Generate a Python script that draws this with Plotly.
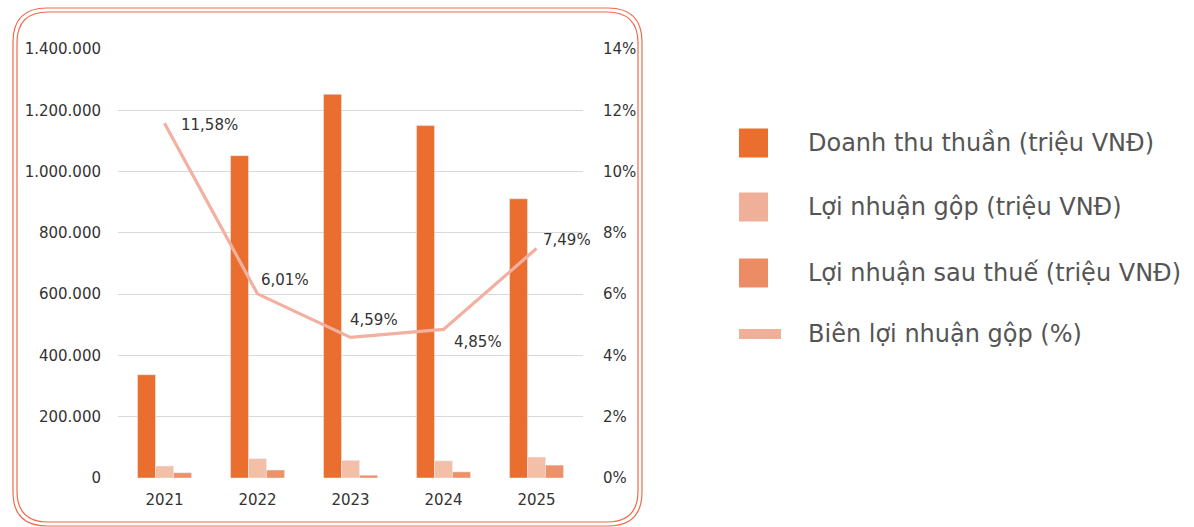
import plotly.graph_objects as go

# Dữ liệu tài chính theo năm
years = ["2021", "2022", "2023", "2024", "2025"]
doanh_thu = [337000, 1052000, 1252000, 1150000, 911000]
loi_nhuan_gop = [39000, 63000, 57500, 55800, 68200]
loi_nhuan_sau_thue = [17000, 26000, 9000, 20000, 42000]
bien_loi_nhuan_gop = [11.58, 6.01, 4.59, 4.85, 7.49]

series_names = [
    "Doanh thu thuần (triệu VNĐ)",
    "Lợi nhuận gộp (triệu VNĐ)",
    "Lợi nhuận sau thuế (triệu VNĐ)",
    "Biên lợi nhuận gộp (%)",
]

C_REV = "#EA6F2F"
C_GROSS = "#F3BFA6"
C_NET = "#EE9068"
C_LINE = "#F3B0A0"
C_GROSS_LEG = "#F0AF98"
C_NET_LEG = "#EC8C64"
C_BORDER = "#F06A4C"
TICK_FONT = dict(family="DejaVu Sans", size=15, color="#333333")

W, H = 1194, 527
ML, MR, MT, MB = 118, 611, 49, 49
PW, PH = W - ML - MR, H - MT - MB


def px(x):
    return (x - ML) / PW


def py(y):
    return 1 - (y - MT) / PH


def rounded_rect(x0, y0, x1, y1, r):
    pts = [
        ("M", (x0 + r, y0)),
        ("L", (x1 - r, y0)),
        ("Q", (x1, y0), (x1, y0 + r)),
        ("L", (x1, y1 - r)),
        ("Q", (x1, y1), (x1 - r, y1)),
        ("L", (x0 + r, y1)),
        ("Q", (x0, y1), (x0, y1 - r)),
        ("L", (x0, y0 + r)),
        ("Q", (x0, y0), (x0 + r, y0)),
    ]
    parts = []
    for p in pts:
        cmd, coords = p[0], p[1:]
        parts.append(cmd + " " + " ".join(f"{px(a):.5f},{py(b):.5f}" for a, b in coords))
    return " ".join(parts) + " Z"


fig = go.Figure()
fig.add_trace(go.Bar(x=years, y=doanh_thu, name=series_names[0], marker_color=C_REV))
fig.add_trace(go.Bar(x=years, y=loi_nhuan_gop, name=series_names[1], marker_color=C_GROSS))
fig.add_trace(go.Bar(x=years, y=loi_nhuan_sau_thue, name=series_names[2], marker_color=C_NET))
fig.add_trace(go.Scatter(
    x=years, y=bien_loi_nhuan_gop, name=series_names[3], yaxis="y2",
    mode="lines", line=dict(color=C_LINE, width=3.2),
))

# Nhãn phần trăm cho đường biên lợi nhuận (vị trí theo chỉ số danh mục)
label_shifts = [(45, -2), (27, 14), (23, 17), (34, -13), (30, 8)]
for i, (v, (dx, dy)) in enumerate(zip(bien_loi_nhuan_gop, label_shifts)):
    fig.add_annotation(
        x=i, y=v, xref="x", yref="y2", text=f"{v:.2f}%".replace(".", ","),
        showarrow=False, xshift=dx, yshift=dy, font=TICK_FONT,
    )

# Chú giải bên phải
legend_rows = [
    (series_names[0], C_REV, 143, "box"),
    (series_names[1], C_GROSS_LEG, 207, "box"),
    (series_names[2], C_NET_LEG, 273, "box"),
    (series_names[3], C_GROSS_LEG, 334, "line"),
]
shapes = []
for name, col, yc, kind in legend_rows:
    half_h = 14.5 if kind == "box" else 5
    x_end = 768 if kind == "box" else 781
    shapes.append(dict(type="rect", xref="paper", yref="paper",
                       x0=px(739), x1=px(x_end), y0=py(yc + half_h), y1=py(yc - half_h),
                       fillcolor=col, line=dict(width=0)))
    fig.add_annotation(
        xref="paper", yref="paper", x=px(806), y=py(yc), xanchor="left", yanchor="middle",
        text=name, showarrow=False,
        font=dict(family="DejaVu Sans", size=24, color="#555555"),
    )

# Khung viền đôi bo góc
shapes.append(dict(type="path", xref="paper", yref="paper",
                   path=rounded_rect(13, 8, 642, 526, 34), line=dict(color=C_BORDER, width=1.2)))
shapes.append(dict(type="path", xref="paper", yref="paper",
                   path=rounded_rect(17, 12, 638, 522, 31), line=dict(color=C_BORDER, width=1.2)))

fig.update_layout(
    width=W, height=H,
    margin=dict(l=ML, r=MR, t=MT, b=MB, autoexpand=False),
    paper_bgcolor="white", plot_bgcolor="white",
    separators=",.",
    barmode="group", bargap=0.42, bargroupgap=0,
    showlegend=False,
    shapes=shapes,
    font=TICK_FONT,
    xaxis=dict(
        type="category", range=[-0.5, len(years) - 0.5],
        showgrid=False, showline=False, zeroline=False,
        ticks="outside", ticklen=8, tickcolor="rgba(0,0,0,0)", tickfont=TICK_FONT,
    ),
    yaxis=dict(
        range=[0, 1400000], tickformat=",d", dtick=200000,
        gridcolor="#d9d9d9", gridwidth=1, zeroline=False, showline=False,
        ticks="outside", ticklen=13, tickcolor="rgba(0,0,0,0)", tickfont=TICK_FONT,
    ),
    yaxis2=dict(
        range=[0, 14], dtick=2, ticksuffix="%", overlaying="y", side="right",
        showgrid=False, zeroline=False, showline=False,
        ticks="outside", ticklen=16, tickcolor="rgba(0,0,0,0)", tickfont=TICK_FONT,
    ),
)

fig.write_html("out.html")
